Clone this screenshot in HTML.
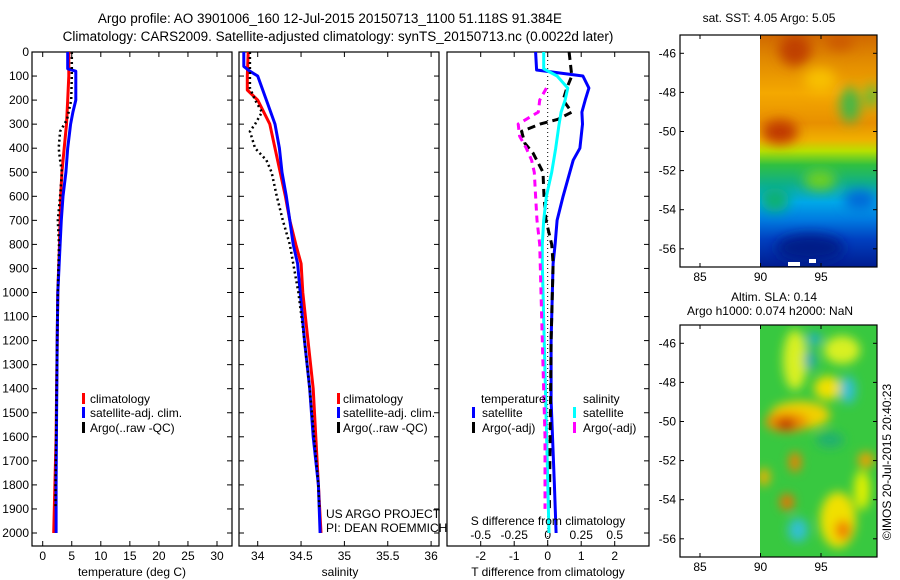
<!DOCTYPE html>
<html><head><meta charset="utf-8"><title>Argo profile</title>
<style>
html,body{margin:0;padding:0;background:#fff;}
svg{display:block;font-family:"Liberation Sans",sans-serif;}
text{font-size:12px;fill:#000;}
</style></head>
<body>
<svg id="fig" width="900" height="580" viewBox="0 0 900 580">
<defs>
<clipPath id="c1"><rect x="32" y="52" width="200" height="494"/></clipPath>
<clipPath id="c2"><rect x="239" y="52" width="200" height="494"/></clipPath>
<clipPath id="c3"><rect x="447" y="52" width="202" height="494"/></clipPath>
<clipPath id="cm1"><rect x="760" y="35" width="117" height="232"/></clipPath>
<clipPath id="cm2"><rect x="760" y="325" width="117" height="232"/></clipPath>
<linearGradient id="sstg" x1="0" y1="0" x2="0" y2="1">
<stop offset="0" stop-color="#d06800"/><stop offset="0.1" stop-color="#e08800"/>
<stop offset="0.25" stop-color="#f4a800"/><stop offset="0.38" stop-color="#e89000"/>
<stop offset="0.45" stop-color="#f0b000"/><stop offset="0.5" stop-color="#b8e000"/>
<stop offset="0.56" stop-color="#30c040"/><stop offset="0.64" stop-color="#10b088"/>
<stop offset="0.72" stop-color="#00a8e8"/><stop offset="0.8" stop-color="#0078e0"/>
<stop offset="0.88" stop-color="#0040c0"/><stop offset="1" stop-color="#001c90"/>
</linearGradient>
<filter id="bl" x="-50%" y="-50%" width="200%" height="200%"><feGaussianBlur stdDeviation="5"/></filter>
<filter id="bl2" x="-50%" y="-50%" width="200%" height="200%"><feGaussianBlur stdDeviation="6"/></filter>
</defs>

<text x="330" y="23" text-anchor="middle" style="font-size:13.5px">Argo profile: AO 3901006_160 12-Jul-2015 20150713_1100 51.118S 91.384E</text>
<text x="338" y="41" text-anchor="middle" style="font-size:13.5px">Climatology: CARS2009. Satellite-adjusted climatology: synTS_20150713.nc (0.0022d later)</text>

<g id="axes"></g>
<g id="series"></g>

<g>
<rect x="82" y="393" width="3" height="11" fill="#f00"/><text x="90" y="403">climatology</text>
<rect x="82" y="407" width="3" height="11" fill="#00f"/><text x="90" y="417">satellite-adj. clim.</text>
<rect x="82" y="422" width="3" height="11" fill="#000"/><text x="90" y="432">Argo(..raw -QC)</text>
</g>
<g>
<rect x="337" y="393" width="3" height="11" fill="#f00"/><text x="343" y="403">climatology</text>
<rect x="337" y="407" width="3" height="11" fill="#00f"/><text x="343" y="417">satellite-adj. clim.</text>
<rect x="337" y="422" width="3" height="11" fill="#000"/><text x="343" y="432">Argo(..raw -QC)</text>
</g>
<g>
<text x="481" y="403">temperature</text><text x="583" y="403">salinity</text>
<rect x="472" y="407" width="3" height="11" fill="#00f"/><text x="482" y="417">satellite</text>
<rect x="472" y="422" width="3" height="11" fill="#000"/><text x="482" y="432">Argo(-adj)</text>
<rect x="573" y="407" width="3" height="11" fill="#0ff"/><text x="583" y="417">satellite</text>
<rect x="573" y="422" width="3" height="11" fill="#f0f"/><text x="583" y="432">Argo(-adj)</text>
</g>
<text x="326" y="518">US ARGO PROJECT</text>
<text x="326" y="532">PI: DEAN ROEMMICH</text>
<text x="548" y="525" text-anchor="middle">S difference from climatology</text>

<text x="132" y="576" text-anchor="middle">temperature (deg C)</text>
<text x="340" y="576" text-anchor="middle">salinity</text>
<text x="548" y="576" text-anchor="middle">T difference from climatology</text>

<g>
<text x="769" y="22" text-anchor="middle">sat. SST: 4.05 Argo: 5.05</text>
<g clip-path="url(#cm1)">
<rect x="760" y="35" width="117" height="232" fill="url(#sstg)"/>
<g filter="url(#bl2)">
<ellipse cx="795" cy="50" rx="16" ry="16" fill="#c04000"/>
<ellipse cx="840" cy="42" rx="14" ry="8" fill="#cc5800"/>
<ellipse cx="780" cy="132" rx="18" ry="12" fill="#c03800"/>
<ellipse cx="820" cy="80" rx="16" ry="12" fill="#f8c000"/>
<ellipse cx="850" cy="105" rx="10" ry="18" fill="#40b848"/>
<ellipse cx="872" cy="96" rx="6" ry="12" fill="#50c040"/>
<ellipse cx="820" cy="180" rx="16" ry="10" fill="#70d020"/>
<ellipse cx="775" cy="200" rx="14" ry="12" fill="#10b070"/>
<ellipse cx="860" cy="200" rx="16" ry="10" fill="#0068d8"/>
<ellipse cx="810" cy="248" rx="34" ry="14" fill="#001a88"/>
</g>
<rect x="788" y="262" width="12" height="4" fill="#fff"/><rect x="809" y="259" width="7" height="4" fill="#fff"/>
</g>
<rect x="680" y="35" width="197" height="232" fill="none" stroke="#000" stroke-width="1.2"/>
<g id="map1ticks"></g>
</g>

<g>
<text x="774" y="301" text-anchor="middle">Altim. SLA: 0.14</text>
<text x="770" y="315" text-anchor="middle">Argo h1000: 0.074 h2000: NaN</text>
<g clip-path="url(#cm2)">
<rect x="760" y="325" width="117" height="232" fill="#38c840"/>
<g filter="url(#bl)">
<ellipse cx="795" cy="360" rx="12" ry="30" fill="#d8f020"/>
<ellipse cx="842" cy="350" rx="18" ry="14" fill="#d8f020"/>
<ellipse cx="800" cy="415" rx="30" ry="14" fill="#f0d000"/>
<ellipse cx="787" cy="422" rx="22" ry="10" fill="#f09000"/>
<ellipse cx="786" cy="424" rx="10" ry="6" fill="#c03000"/>
<ellipse cx="828" cy="388" rx="14" ry="12" fill="#f0e000"/>
<ellipse cx="848" cy="390" rx="8" ry="14" fill="#30c0d0"/>
<ellipse cx="810" cy="360" rx="6" ry="10" fill="#20a8b0"/>
<ellipse cx="814" cy="339" rx="8" ry="6" fill="#20b0c0"/>
<ellipse cx="795" cy="462" rx="6" ry="10" fill="#f08000"/>
<ellipse cx="866" cy="460" rx="8" ry="8" fill="#f0a000"/>
<ellipse cx="764" cy="477" rx="6" ry="9" fill="#f0b000"/>
<ellipse cx="787" cy="502" rx="7" ry="8" fill="#f07000"/>
<ellipse cx="838" cy="520" rx="18" ry="28" fill="#f0e000"/>
<ellipse cx="843" cy="530" rx="8" ry="10" fill="#f08000"/>
<ellipse cx="798" cy="530" rx="10" ry="12" fill="#30c0d0"/>
<ellipse cx="862" cy="490" rx="8" ry="20" fill="#e0f000"/>
<ellipse cx="830" cy="440" rx="14" ry="8" fill="#20b070"/>
</g>
</g>
<rect x="680" y="325" width="197" height="232" fill="none" stroke="#000" stroke-width="1.2"/>
<g id="map2ticks"></g>
</g>
<text transform="translate(891,462) rotate(-90)" text-anchor="middle">©IMOS 20-Jul-2015 20:40:23</text>

<script>
const depthTicks = [0,100,200,300,400,500,600,700,800,900,1000,1100,1200,1300,1400,1500,1600,1700,1800,1900,2000];
const tempTicks = [0,5,10,15,20,25,30];
const salTicks = [34,34.5,35,35.5,36];
const salTickLabels = ["34","34.5","35","35.5","36"];
const tdiffTicks = [-2,-1,0,1,2];
const sdiffTicks = [-0.5,-0.25,0,0.25,0.5];
const sdiffTickLabels = ["-0.5","-0.25","0","0.25","0.5"];
const latTicks = [-46,-48,-50,-52,-54,-56];
const lonTicks = [85,90,95];

const tClimDepth = [0,100,200,300,400,500,600,700,800,1000,1200,1400,1600,1800,1900,2000];
const tClim      = [4.5,4.5,4.3,4.1,3.7,3.3,3.1,3.0,2.9,2.6,2.5,2.4,2.3,2.1,2.0,1.9];
const tSatDepth  = [0,70,80,200,250,300,400,500,600,700,800,1000,1200,1500,1800,2000];
const tSat       = [4.3,4.3,5.7,5.7,5.2,4.8,4.3,4.0,3.5,3.2,3.0,2.6,2.5,2.4,2.3,2.3];
const tArgoDepth = [0,100,200,280,330,400,450,500,600,700,800,1000,1200,1400,1600,1800,1900];
const tArgo      = [5.0,5.0,4.9,4.2,3.0,2.75,3.0,3.3,3.0,2.6,2.8,2.6,2.5,2.4,2.3,2.2,2.2];

const sClimDepth = [0,100,158,200,300,400,500,600,700,800,880,1000,1200,1400,1600,1800,2000];
const sClim      = [33.89,33.88,33.88,34.0,34.14,34.2,34.26,34.32,34.37,34.44,34.5,34.52,34.58,34.64,34.67,34.70,34.73];
const sSatDepth  = [0,60,80,100,200,300,400,500,600,700,800,880,1000,1200,1400,1600,1800,2000];
const sSat       = [33.84,33.84,33.91,34.0,34.1,34.2,34.25,34.28,34.33,34.37,34.41,34.46,34.49,34.54,34.6,34.64,34.7,34.72];
const sArgoDepth = [0,150,200,250,300,330,400,450,500,600,700,800,1000,1200,1400,1600,1800,1900];
const sArgo      = [33.91,33.91,33.97,34.05,33.97,33.91,33.97,34.1,34.16,34.22,34.29,34.37,34.47,34.54,34.6,34.65,34.7,34.71];

const dTSatDepth = [0,75,100,150,200,250,300,350,400,450,500,600,700,800,880,1200,1450,1800,2000];
const dTSat      = [-0.36,-0.33,1.05,1.23,1.12,1.02,1.04,1.0,0.96,0.76,0.66,0.46,0.28,0.22,0.16,0.1,0.1,0.2,0.25];
const dTArgoDepth = [0,100,150,200,250,280,300,330,380,420,460,500,600,700,800,880,1200,1500,1900];
const dTArgo      = [0.64,0.72,0.57,0.46,0.72,0.3,-0.23,-0.78,-0.68,-0.44,-0.29,-0.14,-0.11,-0.05,0.12,0.16,0.1,0.08,0.05];
const dSSatDepth = [0,70,100,150,200,250,300,400,500,600,700,800,880,1450,2000];
const dSSat      = [-0.03,-0.03,0.07,0.15,0.13,0.10,0.085,0.06,0.03,-0.01,-0.03,-0.04,-0.04,-0.015,0.01];
const dSArgoDepth = [150,200,250,300,350,400,450,500,600,700,800,1000,1200,1600,1900];
const dSArgo      = [-0.01,-0.06,-0.07,-0.22,-0.21,-0.16,-0.12,-0.10,-0.09,-0.08,-0.06,-0.05,-0.04,-0.02,-0.02];

const yD = d => 52 + d*0.2405;
const xT = t => 42.7 + t*5.81;
const xS = s => 257.7 + (s-34)*86.7;
const xDT = v => 547.7 + v*33.5;
const xDS = v => 547.7 + v*134;
const yLat1 = l => 53.3 + (-46-l)*19.55;
const yLat2 = l => 343.3 + (-46-l)*19.55;
const xLon = l => 760.5 + (l-90)*12.1;

const NS = "http://www.w3.org/2000/svg";
function mk(tag, attrs, parent){
  const e = document.createElementNS(NS, tag);
  for (const k in attrs) e.setAttribute(k, attrs[k]);
  parent.appendChild(e);
  return e;
}
const axes = document.getElementById('axes');
const series = document.getElementById('series');

const panels = [
  {x:32,w:200,name:'temperature-panel',xs:xT,ticks:tempTicks,labels:tempTicks.map(String),leftLabels:true,rightTicks:true},
  {x:239,w:200,name:'salinity-panel',xs:xS,ticks:salTicks,labels:salTickLabels,leftLabels:false,rightTicks:true},
  {x:447,w:202,name:'difference-panel',xs:xDT,ticks:tdiffTicks,labels:tdiffTicks.map(String),leftLabels:false,rightTicks:true,noLeft:true}
];
panels.forEach(p=>{
  const g = mk('g',{},axes);
  
  
  const fr = mk('rect',{x:p.x,y:52,width:p.w,height:494,fill:'none',stroke:'#000','stroke-width':1.2},g);
  
  
  depthTicks.forEach(d=>{
    const y = yD(d);
    if(!p.noLeft) mk('line',{x1:p.x,x2:p.x+5,y1:y,y2:y,stroke:'#000'},g);
    if(p.rightTicks) mk('line',{x1:p.x+p.w-5,x2:p.x+p.w,y1:y,y2:y,stroke:'#000'},g);
    if(p.leftLabels){
      const t = mk('text',{x:p.x-3,y:y+4,'text-anchor':'end'},g);
      t.textContent = d;
      
      
    }
  });
  p.ticks.forEach((v,i)=>{
    const x = p.xs(v);
    mk('line',{x1:x,x2:x,y1:546,y2:541,stroke:'#000'},g);
    mk('line',{x1:x,x2:x,y1:52,y2:57,stroke:'#000'},g);
    const t = mk('text',{x:x,y:560,'text-anchor':'middle'},g);
    t.textContent = p.labels[i];
    
    
  });
});
sdiffTicks.forEach((v,i)=>{
  const t = mk('text',{x:xDS(v),y:539,'text-anchor':'middle'},axes);
  t.textContent = sdiffTickLabels[i];
  
  
});
const zl = mk('line',{x1:xDT(0),x2:xDT(0),y1:52,y2:546,stroke:'#000','stroke-width':1,'stroke-dasharray':'1,3'},axes);



function line(depths, vals, xs, clip, color, width, dash, name){
  const pts = depths.map((d,i)=> xs(vals[i]).toFixed(1)+','+yD(d).toFixed(1)).join(' ');
  const attrs = {points:pts,fill:'none',stroke:color,'stroke-width':width,'clip-path':'url(#'+clip+')','stroke-linejoin':'round'};
  if(dash) attrs['stroke-dasharray']=dash;
  const e = mk('polyline',attrs,series);
  
  
}
line(tClimDepth,tClim,xT,'c1','#f00',3,null,'temperature-climatology-line');
line(tSatDepth,tSat,xT,'c1','#00f',3,null,'temperature-satellite-line');
line(tArgoDepth,tArgo,xT,'c1','#000',2.5,'2,3','temperature-argo-line');
line(sClimDepth,sClim,xS,'c2','#f00',3,null,'salinity-climatology-line');
line(sSatDepth,sSat,xS,'c2','#00f',3,null,'salinity-satellite-line');
line(sArgoDepth,sArgo,xS,'c2','#000',2.5,'2,3','salinity-argo-line');
line(dTSatDepth,dTSat,xDT,'c3','#00f',3,null,'t-diff-satellite-line');
line(dTArgoDepth,dTArgo,xDT,'c3','#000',3,'8,5','t-diff-argo-line');
line(dSSatDepth,dSSat,xDS,'c3','#0ff',3,null,'s-diff-satellite-line');
line(dSArgoDepth,dSArgo,xDS,'c3','#f0f',3,'7,5','s-diff-argo-line');

function mapTicks(gid, yLat, top, bottom){
  const g = document.getElementById(gid);
  latTicks.forEach(l=>{
    const y = yLat(l);
    mk('line',{x1:680,x2:684,y1:y,y2:y,stroke:'#000'},g);
    mk('line',{x1:873,x2:877,y1:y,y2:y,stroke:'#000'},g);
    const t = mk('text',{x:676,y:y+4,'text-anchor':'end'},g);
    t.textContent = l;
    
    
  });
  lonTicks.forEach(l=>{
    const x = xLon(l);
    mk('line',{x1:x,x2:x,y1:bottom,y2:bottom-4,stroke:'#000'},g);
    mk('line',{x1:x,x2:x,y1:top,y2:top+4,stroke:'#000'},g);
    const t = mk('text',{x:x,y:bottom+14,'text-anchor':'middle'},g);
    t.textContent = l;
    
    
  });
}
mapTicks('map1ticks', yLat1, 35, 267);
mapTicks('map2ticks', yLat2, 325, 557);
</script>
</svg>
</body></html>
